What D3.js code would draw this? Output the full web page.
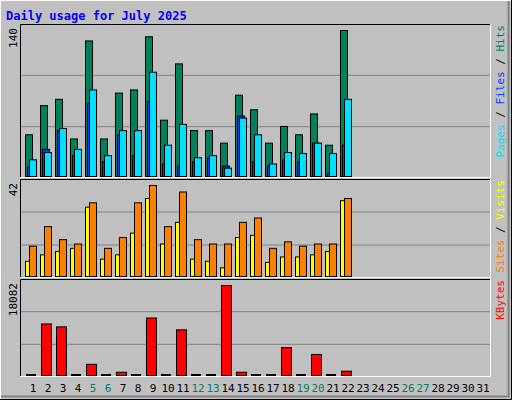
<!DOCTYPE html>
<html><head><meta charset="utf-8">
<script src="https://cdn.jsdelivr.net/npm/d3@7"></script>
<style>body{margin:0;background:#fff}</style>
</head><body>
<svg width="512" height="400"></svg>
<script>
const days = d3.range(1, 32)
const weekend = [5, 6, 12, 13, 19, 20, 26, 27]
const hits   = [40,68,74,36,130,36,80,83,134,54,108,44,44,32,78,64,32,48,40,60,30,140,0,0,0,0,0,0,0,0,0]
const files  = [9,26,44,20,70,14,40,20,72,12,10,14,18,10,58,14,10,16,14,32,3,30,0,0,0,0,0,0,0,0,0]
const pages  = [16,23,46,26,83,20,44,44,100,30,50,18,20,8,56,40,12,23,22,32,22,74,0,0,0,0,0,0,0,0,0]
const sites  = [14,23,17,15,34,13,18,34,42,23,39,17,15,15,25,27,13,16,14,15,15,36,0,0,0,0,0,0,0,0,0]
const visits = [7,10,11.5,13,32,8,10,20,36,15,25,8,7,4,18,19,6.5,9,9,10,11.5,35,0,0,0,0,0,0,0,0,0]
const kbytes = [0,10360,9770,0,2244,0,660,0,11550,0,9170,0,0,18082,660,0,0,5610,0,4224,0,860,null,null,null,null,null,null,null,null,null]

const svg = d3.select('svg').style('font-family', 'DejaVu Sans Mono, monospace')
// outer bevel
svg.append('rect').attr('width', 512).attr('height', 400).attr('fill', '#c0c0c0')
svg.append('path').attr('d', 'M0.5,399.5V0.5H511.5').attr('stroke', '#fff').attr('fill', 'none')
svg.append('path').attr('d', 'M1,396.5H508.5V1').attr('stroke', '#808080').attr('stroke-width', 2).attr('fill', 'none')
svg.append('path').attr('d', 'M0,399.5H511.5V0').attr('stroke', '#000').attr('fill', 'none')

svg.append('text').attr('x', 6).attr('y', 20).text('Daily usage for July 2025')
  .attr('fill', '#0000ff').attr('font-weight', 'bold').attr('font-size', 12)

const x = d3.scaleLinear().domain([1, 32]).range([25, 490])

const panels = [
  {top: 24, bottom: 178, max: 140, label: '140'},
  {top: 179, bottom: 278, max: 42, label: '42'},
  {top: 279, bottom: 377, max: 18082, label: '18082'}
]
panels.forEach((p, i) => {
  p.y = d3.scaleLinear().domain([0, p.max]).range([p.bottom - 2, p.top + 6])
  const g = svg.append('g')
  const h = p.bottom - p.top
  ;[1/3, 2/3].forEach(f => g.append('line').attr('x1', 20).attr('x2', 490)
    .attr('y1', p.bottom - h * f).attr('y2', p.bottom - h * f).attr('stroke', '#808080'))
  g.append('path').attr('d', `M20.5,${p.bottom}V${p.top + .5}H491`).attr('stroke', '#000').attr('fill', 'none')
  g.append('path').attr('d', `M20,${p.bottom - .5}H490.5V${p.top}`).attr('stroke', '#fff').attr('fill', 'none')
  g.append('text').attr('transform', `translate(17,${p.top + 4}) rotate(-90)`)
    .attr('text-anchor', 'end').attr('font-size', 11).text(p.label)
})

function bars(data, panel, dx, w, color) {
  svg.append('g').selectAll('rect').data(days.filter((d, i) => data[i] > 0))
    .enter().append('rect')
    .attr('x', d => x(d) + dx + .5)
    .attr('y', d => panel.y(data[d - 1]) + .5)
    .attr('width', w)
    .attr('height', d => panel.y(0) - panel.y(data[d - 1]))
    .attr('fill', color).attr('stroke', '#000')
}
bars(hits, panels[0], 0, 7, '#00805c')
bars(files, panels[0], 2, 7, '#0040ff')
bars(pages, panels[0], 4, 7, '#00e0ff')
bars(visits, panels[1], 0, 4, '#ffff00')
bars(sites, panels[1], 4, 7, '#ff8000')
// zero-kbyte days get a flat black bar
svg.append('g').selectAll('rect').data(days.filter((d, i) => kbytes[i] === 0))
  .enter().append('rect').attr('x', d => x(d) + 1).attr('y', panels[2].y(0) - 1)
  .attr('width', 10).attr('height', 2).attr('fill', '#000')
bars(kbytes, panels[2], 1, 10, '#ff0000')

svg.append('g').selectAll('text').data(days).enter().append('text')
  .attr('x', d => x(d) + 8).attr('y', 392).attr('text-anchor', 'middle').attr('font-size', 11)
  .attr('fill', d => weekend.includes(d) ? '#00805c' : '#000').text(d => d)

const legends = [
  {y: 25, parts: [['Pages', '#00e0ff'], [' / ', '#000'], ['Files', '#0040ff'], [' / ', '#000'], ['Hits', '#00805c']]},
  {y: 180, parts: [['Sites', '#ff8000'], [' / ', '#000'], ['Visits', '#ffff00']]},
  {y: 280, parts: [['KBytes', '#ff0000']]}
]
legends.forEach(l => {
  const t = svg.append('text').attr('transform', `translate(504,${l.y}) rotate(-90)`)
    .attr('text-anchor', 'end').attr('font-size', 11)
  l.parts.forEach(p => t.append('tspan').attr('fill', p[1]).text(p[0]))
})
</script>
</body></html>
